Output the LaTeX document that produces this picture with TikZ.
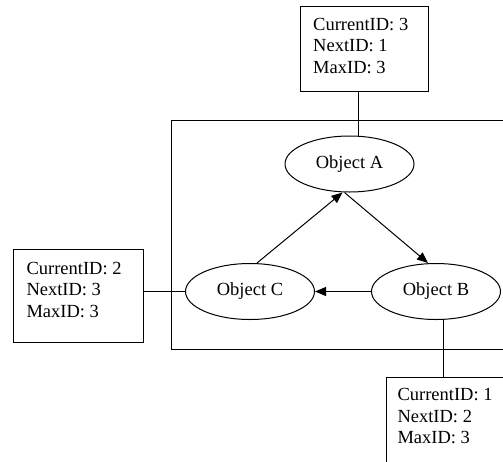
\documentclass[tikz,border=0pt]{standalone}
\usepackage{fontspec}
\setmainfont{Liberation Serif}
\usetikzlibrary{shapes.geometric,arrows.meta}
\begin{document}
\begin{tikzpicture}[x=1pt,y=-1pt,line width=1pt,
  obj/.style={draw,ellipse,minimum width=129pt,minimum height=56pt,inner sep=0pt,
    font=\fontsize{18.5}{21.5}\selectfont},
  idbox/.style={draw,rectangle,inner sep=0pt},
  idtext/.style={anchor=west,align=left,inner sep=0pt,
    font=\fontsize{18.5}{21.5}\selectfont},
  arr/.style={-{Triangle[length=11pt,width=9pt]}}]
\clip (0,0) rectangle (503,461);
\fill[white] (0,0) rectangle (503,461);
% big container
\draw (171,120.7) rectangle (520,349);
% objects
\node[obj] (objA) at (349.5,164) {Object A};
\node[obj] (objB) at (436,291.5) {Object B};
\node[obj] (objC) at (250,291.5) {Object C};
% id boxes
\node[idbox,minimum width=128pt,minimum height=85pt] (topbox) at (364,48.5) {};
\node[idtext] (toptext) at (312.7,46) {CurrentID: 3\\NextID: 1\\MaxID: 3};
\node[idbox,minimum width=130pt,minimum height=93.7pt] (leftbox) at (78,295.85) {};
\node[idtext] (lefttext) at (26,290) {CurrentID: 2\\NextID: 3\\MaxID: 3};
\node[idbox,minimum width=130pt,minimum height=90pt,anchor=north west] (botbox) at (386,377.3) {};
\node[idtext] (bottext) at (397,416) {CurrentID: 1\\NextID: 2\\MaxID: 3};
% connectors
\draw ([xshift=-6pt]topbox.south) -- ([xshift=-6pt]topbox.south |- objA.north);
\draw (leftbox.east |- objC.west) -- (objC.west);
\draw ([xshift=7pt]objB.south) -- ([xshift=7pt]objB.south |- botbox.north);
\draw[arr] ([xshift=7pt]objC.north) -- ([xshift=-7pt]objA.south);
\draw[arr] ([xshift=-5pt]objA.south) -- ([xshift=-8pt]objB.north);
\draw[arr] (objB.west) -- (objC.east);
\end{tikzpicture}
\end{document}
